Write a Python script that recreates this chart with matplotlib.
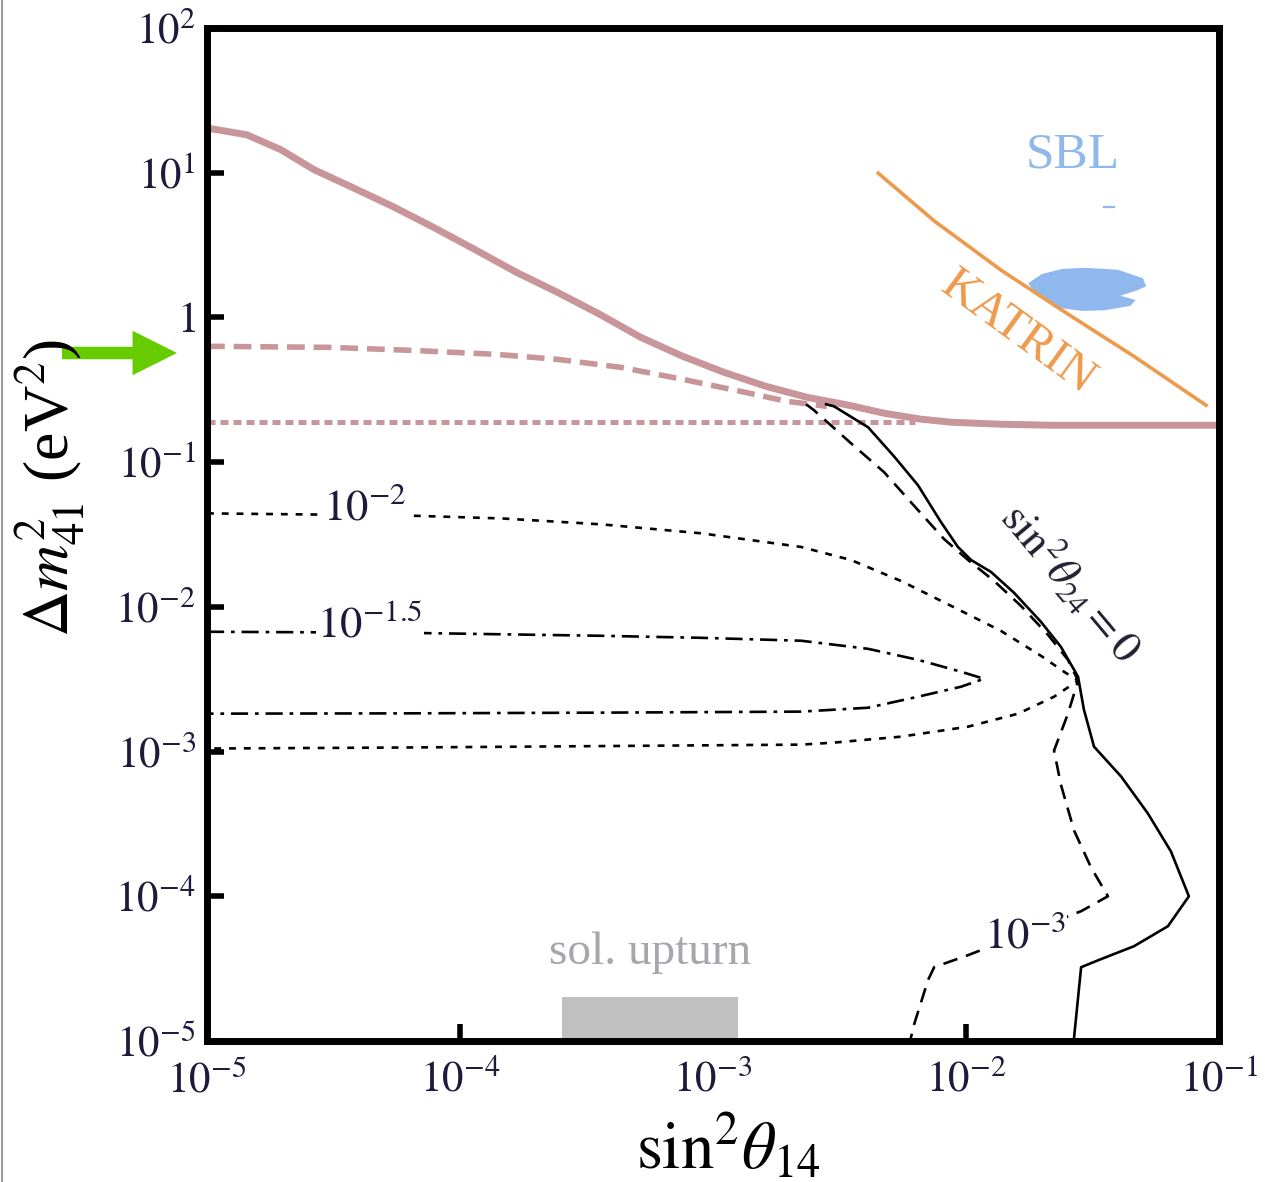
import numpy as np
import matplotlib
matplotlib.use('Agg')
import matplotlib.pyplot as plt
from matplotlib.lines import Line2D
from matplotlib.ticker import FixedLocator, FixedFormatter, NullLocator

plt.rcParams['font.family'] = ['Liberation Serif', 'DejaVu Serif']
plt.rcParams['mathtext.fontset'] = 'stix'

# ---- data (log10 of sin^2 theta14, log10 of dm^2_41 / eV^2) ----
pink_solid_lx = [-5.0, -4.980, -4.842, -4.708, -4.577, -4.431, -4.265, -4.103, -3.941, -3.775,
                 -3.613, -3.447, -3.285, -3.119, -2.957, -2.791, -2.628, -2.462, -2.324,
                 -2.178, -2.059, -1.862, -1.664, -1.0]
pink_solid_ly = [1.31, 1.303, 1.262, 1.159, 1.021, 0.903, 0.766, 0.621, 0.469, 0.310,
                 0.172, 0.021, -0.138, -0.269, -0.379, -0.476, -0.552, -0.607, -0.662,
                 -0.703, -0.724, -0.738, -0.745, -0.745]

pink_dashed_lx = [-5.0, -4.957, -4.510, -4.186, -3.858, -3.613, -3.364, -3.119, -2.874, -2.711, -2.613, -2.55]
pink_dashed_ly = [-0.200, -0.200, -0.207, -0.228, -0.255, -0.290, -0.345, -0.428, -0.517, -0.579, -0.600, -0.615]

pink_dotted_lx = [-5.0, -4.0, -3.0, -2.2]
pink_dotted_ly = [-0.724, -0.724, -0.724, -0.724]

katrin_lx = [-2.347, -2.125, -1.861, -1.596, -1.336, -1.051]
katrin_ly = [0.997, 0.666, 0.326, 0.022, -0.269, -0.607]

sbl_blob_lx = [-1.754, -1.70, -1.62, -1.533, -1.40, -1.30, -1.288, -1.32, -1.39, -1.33,
               -1.35, -1.45, -1.54, -1.65, -1.69, -1.72]
sbl_blob_ly = [0.236, 0.30, 0.335, 0.343, 0.33, 0.27, 0.215, 0.19, 0.15, 0.12,
               0.08, 0.05, 0.045, 0.07, 0.13, 0.15]
sbl_dash_lx = [-1.454, -1.415]
sbl_dash_ly = [0.762, 0.762]

th24_zero_lx = [-2.553, -2.522, -2.387, -2.285, -2.190, -2.099, -2.032, -1.980, -1.901, -1.810,
                -1.704, -1.625, -1.557, -1.534, -1.494, -1.387, -1.281, -1.190, -1.119,
                -1.202, -1.336, -1.466, -1.545, -1.573, -1.577]
th24_zero_ly = [-0.600, -0.614, -0.759, -0.959, -1.159, -1.414, -1.586, -1.676, -1.759, -1.903,
                -2.103, -2.276, -2.483, -2.710, -2.966, -3.172, -3.428, -3.690, -4.000,
                -4.207, -4.345, -4.434, -4.490, -4.979, -5.0]

th24_1e3_lx = [-2.632, -2.601, -2.455, -2.324, -2.190, -2.087, -1.992, -1.889, -1.783, -1.676,
               -1.597, -1.557, -1.597, -1.652, -1.625, -1.573, -1.506, -1.439, -1.545,
               -1.992, -2.126, -2.150, -2.206, -2.221]
th24_1e3_ly = [-0.600, -0.641, -0.869, -1.069, -1.331, -1.531, -1.676, -1.821, -1.993, -2.193,
               -2.366, -2.510, -2.738, -2.993, -3.228, -3.545, -3.800, -4.000, -4.103,
               -4.407, -4.490, -4.579, -4.890, -5.0]

th24_1e2_lx = [-5.0, -4.625, -4.230, -3.835, -3.440, -3.045, -2.652, -2.455, -2.257, -2.059,
               -1.862, -1.704, -1.613, -1.557,
               -1.652, -1.794, -1.992, -2.257, -2.522, -2.652, -3.440, -4.230, -5.0]
th24_1e2_ly = [-1.354, -1.361, -1.368, -1.389, -1.430, -1.492, -1.586, -1.676, -1.821, -1.993,
               -2.166, -2.338, -2.448, -2.510,
               -2.621, -2.738, -2.828, -2.897, -2.938, -2.952, -2.962, -2.972, -2.979]

th24_1e15_lx = [-5.0, -4.230, -3.440, -3.045, -2.652, -2.387, -2.190, -2.020, -1.929,
                -2.020, -2.190, -2.387, -2.652, -3.440, -4.230, -5.0]
th24_1e15_ly = [-2.172, -2.179, -2.200, -2.214, -2.234, -2.290, -2.366, -2.448, -2.497,
                -2.552, -2.621, -2.697, -2.724, -2.731, -2.736, -2.738]

sol_upturn_x = [2.52e-4, 1.26e-3]
sol_upturn_y = [1e-5, 2.0e-5]

x_ticks = [1e-5, 1e-4, 1e-3, 1e-2, 1e-1]
x_ticklabels = [r'$10^{-5}$', r'$10^{-4}$', r'$10^{-3}$', r'$10^{-2}$', r'$10^{-1}$']
y_ticks = [1e-5, 1e-4, 1e-3, 1e-2, 1e-1, 1, 1e1, 1e2]
y_ticklabels = [r'$10^{-5}$', r'$10^{-4}$', r'$10^{-3}$', r'$10^{-2}$', r'$10^{-1}$',
                r'$1$', r'$10^{1}$', r'$10^{2}$']


def p(v):
    return 10 ** np.asarray(v, dtype=float)


W, H = 1265, 1182
fig = plt.figure(figsize=(W / 100, H / 100), dpi=100)
ax = fig.add_axes([207 / W, 1 - 1041 / H, (1219 - 207) / W, (1041 - 28) / H])
ax.set_xscale('log')
ax.set_yscale('log')
ax.set_xlim(1e-5, 1e-1)
ax.set_ylim(1e-5, 1e2)

pink = '#c8969a'
ax.plot(p(pink_dotted_lx), p(pink_dotted_ly), color=pink, lw=3.6,
        linestyle=(0, (1.6, 1.0)), dash_capstyle='butt', zorder=3)
ax.plot(p(pink_dashed_lx), p(pink_dashed_ly), color=pink, lw=4.0,
        linestyle=(0, (3.2, 1.6)), dash_capstyle='butt', zorder=3)
ax.plot(p(pink_solid_lx), p(pink_solid_ly), color=pink, lw=5.0, zorder=4,
        solid_capstyle='butt', solid_joinstyle='round')

# KATRIN & SBL
ax.plot(p(katrin_lx), p(katrin_ly), color='#ee9a4c', lw=2.6, zorder=4,
        solid_joinstyle='round')
ax.fill(p(sbl_blob_lx), p(sbl_blob_ly), color='#8fb8ee', lw=0, zorder=3)
ax.plot(p(sbl_dash_lx), p(sbl_dash_ly), color='#8fb8ee', lw=1.6, zorder=3)

# black contours
ax.plot(p(th24_1e2_lx), p(th24_1e2_ly), color='black', lw=1.9,
        linestyle=(0, (2.6, 3.0)), dash_capstyle='butt', zorder=5)
ax.plot(p(th24_1e15_lx), p(th24_1e15_ly), color='black', lw=1.9,
        linestyle=(0, (6.5, 2.6, 1.4, 2.6)), dash_capstyle='butt', zorder=5)
ax.plot(p(th24_1e3_lx), p(th24_1e3_ly), color='black', lw=1.9,
        linestyle=(0, (5.6, 3.4)), dash_capstyle='butt', zorder=5)
ax.plot(p(th24_zero_lx), p(th24_zero_ly), color='black', lw=1.9, zorder=6)

# sol. upturn box
ax.fill_between(sol_upturn_x, sol_upturn_y[0], sol_upturn_y[1], color='#c0c0c0', lw=0, zorder=2)

lab_col = '#1e1a3c'
bbox_w = dict(facecolor='white', edgecolor='none', pad=1.0)
ax.text(4.2e-5, 0.048, r'$10^{-2}$', fontsize=32, color=lab_col, ha='center', va='center',
        bbox=bbox_w, zorder=7)
ax.text(4.4e-5, 7.4e-3, r'$10^{-1.5}$', fontsize=32, color=lab_col, ha='center', va='center',
        bbox=bbox_w, zorder=7)
ax.text(0.0171, 5.35e-5, r'$10^{-3}$', fontsize=32, color=lab_col, ha='center', va='center',
        bbox=bbox_w, zorder=7)
ax.text(0.0262, 0.0150, r'$\sin^2\!\theta_{24}=0$', fontsize=32, color='#202030',
        ha='center', va='center', rotation=-50, rotation_mode='anchor', zorder=7)
ax.text(0.0161, 0.778, 'KATRIN', fontsize=35, color='#ee9a4c', ha='center', va='center',
        rotation=-36, rotation_mode='anchor', zorder=7)
ax.text(0.0265, 13.2, 'SBL', fontsize=37, color='#8fb8ee', ha='center', va='center', zorder=7)
ax.text(5.63e-4, 4.07e-5, 'sol. upturn', fontsize=34, color='#a6a6ae', ha='center',
        va='center', zorder=7)

# axes styling
for s in ax.spines.values():
    s.set_linewidth(5)
    s.set_color('black')
    s.set_zorder(10)
ax.xaxis.set_major_locator(FixedLocator(x_ticks))
ax.xaxis.set_major_formatter(FixedFormatter(x_ticklabels))
ax.yaxis.set_major_locator(FixedLocator(y_ticks))
ax.yaxis.set_major_formatter(FixedFormatter(y_ticklabels))
ax.xaxis.set_minor_locator(NullLocator())
ax.yaxis.set_minor_locator(NullLocator())
ax.tick_params(axis='both', which='major', direction='in', length=12, width=4,
               color='black', labelsize=31, labelcolor=lab_col, top=False, right=False)
ax.tick_params(axis='x', pad=14)
ax.tick_params(axis='y', pad=8)

# axis labels
fig.text(728 / W, 1 - 1148 / H, r'$\sin^2\!\theta_{14}$', fontsize=48, ha='center', va='center')
fig.text(50 / W, 1 - 488 / H, r'$\Delta m^2_{41}$ (eV$^2$)', fontsize=46, ha='center',
         va='center', rotation=90)

# green arrow
ax.annotate('', xy=(177, H - 353), xytext=(62, H - 353), xycoords='figure pixels',
            textcoords='figure pixels', annotation_clip=False,
            arrowprops=dict(arrowstyle='simple,head_length=1.6,head_width=1.6,tail_width=0.45',
                            mutation_scale=20, color='#66cc00', lw=0, shrinkA=0, shrinkB=0),
            zorder=20)

fig.add_artist(Line2D([2 / W, 2 / W], [0, 1], color='#888888', lw=1.2))

fig.savefig('out.png', dpi=100)
